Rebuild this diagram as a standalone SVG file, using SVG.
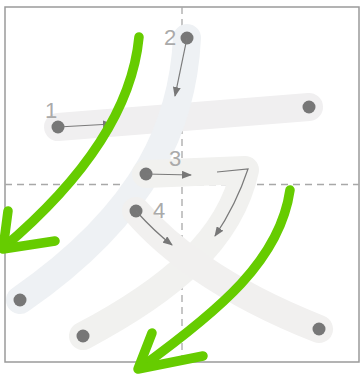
<svg xmlns="http://www.w3.org/2000/svg" width="360" height="374" viewBox="0 0 360 374">
<style>
.frame{fill:none;stroke:#9a9a9a;stroke-width:1.5}
.grid{stroke:#a8a8a8;stroke-width:1.3;stroke-dasharray:7,5;fill:none}
.stroke{fill:none;stroke:#efefef;stroke-width:28;stroke-linecap:round;stroke-linejoin:round}
.guide{fill:none;stroke:#7a7a7a;stroke-width:1.2}
.dot{fill:#777}
.num{font-family:"Liberation Sans",Arial,sans-serif;font-size:22px;fill:#aaaaaa}
.green{fill:none;stroke:#66cc00;stroke-width:9.5;stroke-linecap:round;stroke-linejoin:round}
</style>
<defs>
<marker id="ah" markerWidth="10" markerHeight="8" refX="9" refY="4" orient="auto" markerUnits="userSpaceOnUse">
<path d="M0,0 L10,4 L0,8 Z" fill="#777"/>
</marker>
</defs>
<rect class="frame" x="5" y="7" width="354" height="355"/>
<line class="grid" x1="5" y1="184.5" x2="359" y2="184.5"/>
<line class="grid" x1="182" y1="7" x2="182" y2="362"/>
<g id="stroke1">
<path class="stroke" d="M58,127 L309,107" style="stroke:#f0eff0"/>
<circle class="dot" cx="58" cy="127" r="6.5"/>
<text class="num" x="45" y="118">1</text>
</g>
<g id="stroke2">
<path class="stroke" d="M187,38 C183,120 150,210 20,300" style="stroke:#eef1f4"/>
<circle class="dot" cx="187" cy="38" r="6.5"/>
<circle class="dot" cx="20" cy="300" r="6.5"/>
<text class="num" x="164" y="45">2</text>
</g>
<g id="stroke3">
<path class="stroke" d="M146,174 L245,170 C230,240 170,290 83,336" style="stroke:#f1f1ef"/>
<circle class="dot" cx="146" cy="174" r="6.5"/>
<circle class="dot" cx="83" cy="336" r="6.5"/>
<text class="num" x="169" y="166">3</text>
</g>
<g id="stroke4">
<path class="stroke" d="M136,211 C165,245 220,290 319,329" style="stroke:#f1f0ef"/>
<circle class="dot" cx="136" cy="211" r="6.5"/>
<circle class="dot" cx="319" cy="329" r="6.5"/>
<text class="num" x="153" y="218">4</text>
</g>
<g id="stroke1-dot-end">
<circle class="dot" cx="309" cy="107" r="6.5"/>
</g>
<g id="connectors">
<path class="guide" d="M58,127 L112,124" marker-end="url(#ah)"/>
<path class="guide" d="M187,38 L175,96" marker-end="url(#ah)"/>
<path class="guide" d="M146,174 L191,175" marker-end="url(#ah)"/>
<path class="guide" d="M217,172 L248,169 Q236,205 215,236" marker-end="url(#ah)"/>
<path class="guide" d="M136,211 Q155,232 172,245" marker-end="url(#ah)"/>
<path class="green" d="M139,37 C133,100 95,170 3,248"/>
<path class="green" d="M8,211 L3,249 L55,241"/>
<path class="green" d="M290,190 C280,260 220,310 140,368"/>
<path class="green" d="M152,333 L138,369 L203,356"/>
</g>
</svg>
